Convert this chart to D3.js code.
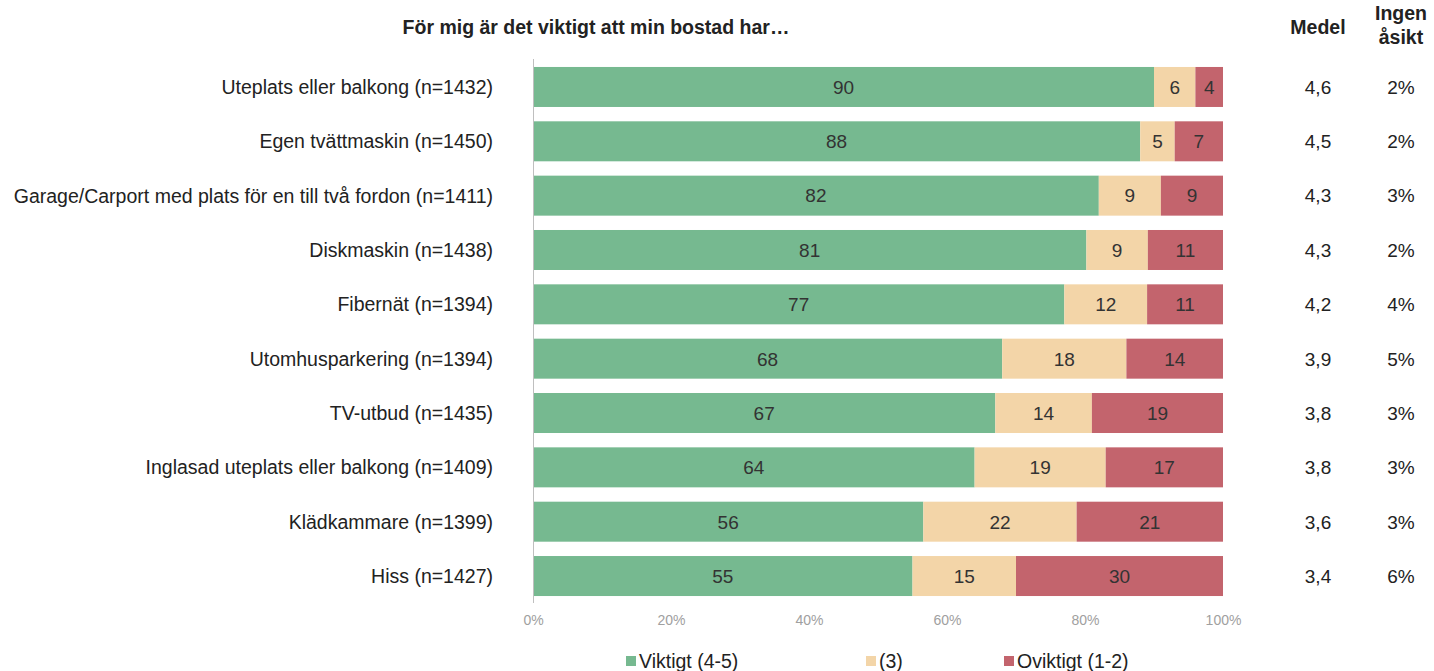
<!DOCTYPE html>
<html><head><meta charset="utf-8">
<script src="https://cdn.jsdelivr.net/npm/d3@7"></script>
<style>body{margin:0;background:#fff;}svg{display:block;font-family:"Liberation Sans",Arial,sans-serif;}</style>
</head><body><svg id="c" width="1434" height="671"></svg>
<script>
const categories = ["Uteplats eller balkong (n=1432)","Egen tvättmaskin (n=1450)","Garage/Carport med plats för en till två fordon (n=1411)","Diskmaskin (n=1438)","Fibernät (n=1394)","Utomhusparkering (n=1394)","TV-utbud (n=1435)","Inglasad uteplats eller balkong (n=1409)","Klädkammare (n=1399)","Hiss (n=1427)"];
const viktigt = [90,88,82,81,77,68,67,64,56,55];
const neutral = [6,5,9,9,12,18,14,19,22,15];
const oviktigt = [4,7,9,11,11,14,19,17,21,30];
const medel = ["4,6","4,5","4,3","4,3","4,2","3,9","3,8","3,8","3,6","3,4"];
const ingenAsikt = ["2%","2%","3%","2%","4%","5%","3%","3%","3%","6%"];
const seriesNames = ["Viktigt (4-5)","(3)","Oviktigt (1-2)"];
const ticks = [0,0.2,0.4,0.6,0.8,1];
const colors = ["#76b990","#f3d5a8","#c3646d"];

const svg = d3.select("#c");
const x = d3.scaleLinear().domain([0,1]).range([533,1223]);
const y = d3.scaleBand().domain(categories).range([59.8,603.2]).paddingInner(0.264).paddingOuter(0.132);

const rows = categories.map((c,i)=>({cat:c, v:viktigt[i], n:neutral[i], o:oviktigt[i]}));
const stack = d3.stack().keys(["v","n","o"]).offset(d3.stackOffsetExpand);
const series = stack(rows);

const g = svg.append("g");
series.forEach((s,si)=>{
  g.selectAll(null).data(s).enter().append("rect")
    .attr("x",d=>x(d[0])).attr("width",d=>x(d[1])-x(d[0]))
    .attr("y",d=>y(d.data.cat)).attr("height",y.bandwidth())
    .attr("fill",colors[si]);
  g.selectAll(null).data(s).enter().append("text")
    .attr("x",d=>(x(d[0])+x(d[1]))/2).attr("y",d=>y(d.data.cat)+y.bandwidth()/2)
    .attr("dy","0.36em").attr("text-anchor","middle")
    .attr("font-size",19).attr("fill","#333")
    .text(d=>d.data[s.key]);
});

// vertical axis line
svg.append("line").attr("x1",533.5).attr("x2",533.5).attr("y1",59).attr("y2",603)
  .attr("stroke","#bfbfbf").attr("stroke-width",1);

// category labels
svg.append("g").selectAll("text").data(categories).enter().append("text")
  .attr("x",493).attr("y",d=>y(d)+y.bandwidth()/2).attr("dy","0.36em")
  .attr("text-anchor","end").attr("font-size",19.5).attr("fill","#222").text(d=>d);

// x axis ticks
const xa = svg.append("g").attr("transform","translate(0,603)")
  .call(d3.axisBottom(x).tickValues(ticks).tickFormat(d3.format(".0%")).tickSize(0).tickPadding(12));
xa.select(".domain").remove();
xa.selectAll("text").attr("font-size",14).attr("fill","#a0a0a0").attr("font-family","Liberation Sans, Arial, sans-serif");

// Medel and Ingen åsikt columns
svg.append("g").selectAll("text").data(medel).enter().append("text")
  .attr("x",1318).attr("y",(d,i)=>y(categories[i])+y.bandwidth()/2).attr("dy","0.36em")
  .attr("text-anchor","middle").attr("font-size",19).attr("fill","#222").text(d=>d);
svg.append("g").selectAll("text").data(ingenAsikt).enter().append("text")
  .attr("x",1401).attr("y",(d,i)=>y(categories[i])+y.bandwidth()/2).attr("dy","0.36em")
  .attr("text-anchor","middle").attr("font-size",19).attr("fill","#222").text(d=>d);

// headers
svg.append("text").attr("x",596).attr("y",34).attr("text-anchor","middle")
  .attr("font-size",19.5).attr("font-weight","bold").attr("fill","#222")
  .text("För mig är det viktigt att min bostad har…");
svg.append("text").attr("x",1318).attr("y",34).attr("text-anchor","middle")
  .attr("font-size",19.5).attr("font-weight","bold").attr("fill","#222").text("Medel");
svg.append("text").attr("x",1401).attr("y",20).attr("text-anchor","middle")
  .attr("font-size",19.5).attr("font-weight","bold").attr("fill","#222").text("Ingen");
svg.append("text").attr("x",1401).attr("y",44).attr("text-anchor","middle")
  .attr("font-size",19.5).attr("font-weight","bold").attr("fill","#222").text("åsikt");

// legend
const legX = [626,866,1004];
const leg = svg.append("g").selectAll("g").data(seriesNames).enter().append("g")
  .attr("transform",(d,i)=>`translate(${legX[i]},0)`);
leg.append("rect").attr("x",0).attr("y",656).attr("width",10).attr("height",10).attr("fill",(d,i)=>colors[i]);
leg.append("text").attr("x",13).attr("y",661).attr("dy","0.36em")
  .attr("font-size",19.5).attr("fill","#222")
  .attr("font-family","'Liberation Sans Narrow','Liberation Sans',Arial,sans-serif")
  .text(d=>d);
</script></body></html>
